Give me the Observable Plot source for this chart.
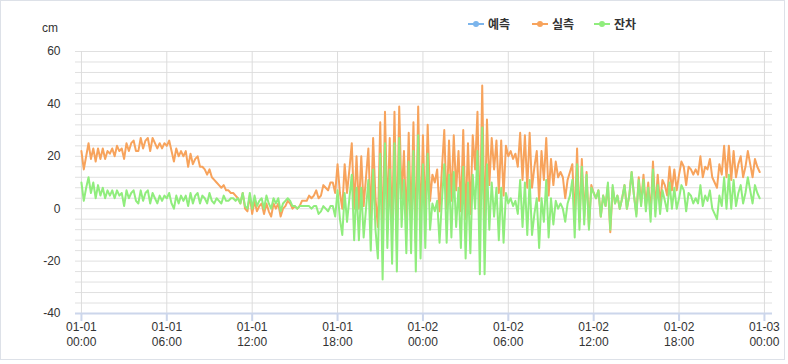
<!DOCTYPE html>
<html>
<head>
<meta charset="utf-8">
<script src="https://cdn.jsdelivr.net/npm/d3@7"></script>
<script src="https://cdn.jsdelivr.net/npm/@observablehq/plot@0.6"></script>
<style>
  body { margin: 0; background: #fff; font-family: "Noto Sans CJK KR", "Noto Sans", sans-serif; }
  #wrap { position: relative; width: 788px; height: 364px; overflow: hidden; background: #fff; }
  #frame { position: absolute; left: 0; top: 0; width: 785px; height: 360px; border: 1px solid #dde1e8; box-sizing: border-box; pointer-events: none; }
  #unit { position: absolute; left: 42px; top: 21px; font-size: 12px; color: #333; font-family: "Liberation Sans", Arial, sans-serif; }
  .leg { position: absolute; top: 15px; display: flex; align-items: center; font-size: 12px; font-weight: bold; color: #333; white-space: nowrap; }
  .leg svg { margin-right: 4px; }
  #chart { position: absolute; left: 0; top: 0; }
</style>
</head>
<body>
<div id="wrap">
  <div id="chart"></div>
  <div id="unit">cm</div>
  <div id="legend"></div>
  <div id="frame"></div>
</div>
<script>
// ---- data (10-minute readings from 01-01 00:00) ----
const startTime = Date.UTC(2024, 0, 1, 0, 0);
const stepMinutes = 10;

const seriesNames = ["예측", "실측", "잔차"];
const seriesColors = ["#7cb5ec", "#f7a35c", "#90ed7d"];

// 예측 (prediction) – not drawn in the reference
const predicted = [];

// 실측 (observed), cm
const observed = [
  22,15,20,25,19,23, 18,23,19,23,19,22, 21,23,20,24,22,23, 19,25,22,25,26,22,
  22,27,23,26,27,22, 27,25,23,25,23,25, 24,26,22,18,23,20, 22,20,22,16,21,17,
  19,20,16,16,15,13, 15,12,11,10,9,8, 9,7,7,6,6,5, 4,2,6,0,-1,5,
  -2,3,-1,1,2,-2, 2,-1,-3,2,0,2, -3,0,1,3,2,0, 1,0,1,3,3,3,
  5,4,5,7,4,5, 9,8,7,10,10,6, 17,6,0,17,6,15, 25,0,20,0,20,1,
  12,23,-4,27,4,-7, 33,-15,37,-3,27,-9, 37,-12,39,4,22,-6, 29,-6,33,-13,39,-8,
  28,-4,32,3,13,10, 15,-1,15,30,0,26, 3,28,7,22,-1,30, -4,25,-2,28,15,37,
  -9,47,-9,34,9,27, 15,26,6,26,5,24, 20,22,19,21,16,29, 11,28,8,29,8,16,
  22,3,22,11,27,5, 19,9,18,12,14,12, 4,11,14,17,-5,23, -5,19,-3,14,-7,9,
  6,4,7,-3,5,1, 9,-9,8,2,5,0, 4,9,0,5,14,5, -2,12,2,13,1,10,
  -2,18,0,13,2,11, 9,5,16,7,15,7, 13,18,16,9,16,15, 13,15,13,20,12,16,
  15,19,12,10,8,17, 13,24,12,24,11,22, 12,17,20,12,16,22, 17,12,19,16,14
];

// 잔차 (residual), cm
const residual = [
  10,3,8,12,6,10, 4,9,5,8,4,7, 5,7,4,7,5,6, 1,7,4,6,7,3, 2,7,3,6,7,2, 6,4,2,5,3,5,
  4,6,2,0,5,2, 5,3,5,1,6,2, 5,6,2,5,4,2, 6,3,2,4,3,2, 5,3,3,4,4,3, 4,2,6,1,0,6,
  0,5,1,3,4,0, 5,2,0,4,2,4, -1,2,3,4,3,1, 1,0,1,1,1,1, 1,0,1,1,-2,-1, 1,0,-1,1,1,-3,
  7,-4,-10,6,-5,4, 13,-12,8,-12,8,-11, 0,11,-16,15,-8,-19, 21,-27,25,-15,15,-21, 25,-24,27,-7,11,-17, 18,-17,22,-24,28,-19,
  17,-15,21,-8,2,-1, 3,-13,3,17,-13,13, -11,14,-7,8,-15,16, -19,10,-17,13,0,22, -25,31,-25,17,-8,10, -3,8,-12,8,-13,6,
  2,4,1,3,-2,11, -7,10,-10,11,-10,-2, 4,-15,4,-5,11,-11, 4,-6,3,0,2,0, -5,2,5,11,-11,17, -8,16,-6,13,-8,8,
  6,4,7,-3,5,1, 10,-8,9,2,5,0, 4,9,0,5,14,5, -3,11,1,11,-1,8, -5,15,-3,9,-2,7, 3,-1,10,0,8,0,
  4,9,7,-1,6,5, 2,4,2,9,1,5, 3,7,0,-2,-4,5, 1,12,0,13,0,11, 1,6,9,2,6,12, 7,2,9,6,4
];

// axes
const tickHours = [0, 6, 12, 18, 24, 30, 36, 42, 48];
const xDateLabels = ["01-01", "01-01", "01-01", "01-01", "01-02", "01-02", "01-02", "01-02", "01-03"];
const xTimeLabels = ["00:00", "06:00", "12:00", "18:00", "00:00", "06:00", "12:00", "18:00", "00:00"];
const yTicks = [-40, -20, 0, 20, 40, 60];
const yGrid = d3.range(-40, 61, 4);

// ---- build ----
const rows = observed.map((v, i) => ({
  time: new Date(startTime + i * stepMinutes * 60000),
  observed: v,
  residual: residual[i]
}));
const xTicks = tickHours.map(h => new Date(startTime + h * 3600000));
const tickIndex = d => xTicks.findIndex(t => +t === +d);
const xDomain = [new Date(startTime - 25 * 60000), new Date(startTime + (48 * 60 + 34) * 60000)];

const chart = Plot.plot({
  width: 788,
  height: 364,
  marginTop: 51,
  marginBottom: 51,
  marginLeft: 75,
  marginRight: 16,
  style: { fontFamily: '"Liberation Sans", Arial, sans-serif', fontSize: "12px", background: "transparent", color: "#333" },
  x: { type: "utc", domain: xDomain },
  y: { domain: [-40, 60] },
  marks: [
    Plot.ruleY(yGrid, { stroke: "#e0e0e0", strokeWidth: 1 }),
    Plot.ruleX(xTicks, { stroke: "#dcdcdc", strokeWidth: 1 }),
    Plot.line(rows, { x: "time", y: "observed", stroke: seriesColors[1], strokeWidth: 2, curve: "linear" }),
    Plot.line(rows, { x: "time", y: "residual", stroke: seriesColors[2], strokeWidth: 2, curve: "linear" }),
    Plot.ruleY([-40], { stroke: "#ccd6eb", strokeWidth: 2 }),
    // tick marks only
    Plot.axisX({ ticks: xTicks, tickSize: 8, stroke: "#ccd6eb", strokeWidth: 2, tickFormat: () => "" }),
    // two label rows
    Plot.axisX({ ticks: xTicks, tickSize: 0, tickPadding: 9, color: "#333", fontSize: 12,
      tickFormat: d => xDateLabels[tickIndex(d)] }),
    Plot.axisX({ ticks: xTicks, tickSize: 0, tickPadding: 24, color: "#333", fontSize: 12,
      tickFormat: d => xTimeLabels[tickIndex(d)] }),
    Plot.axisY({ ticks: yTicks, tickSize: 0, tickPadding: 15, color: "#333", fontSize: 12, tickFormat: d => String(d) })
  ]
});
document.getElementById("chart").appendChild(chart);

// legend
const legendX = [468, 532, 594];
const legend = document.getElementById("legend");
seriesNames.forEach((name, i) => {
  const item = document.createElement("div");
  item.className = "leg";
  item.style.left = legendX[i] + "px";
  item.innerHTML = `<svg width="16" height="12"><line x1="0" y1="6" x2="16" y2="6" stroke="${seriesColors[i]}" stroke-width="2"/><circle cx="8" cy="6" r="3" fill="${seriesColors[i]}"/></svg><span>${name}</span>`;
  legend.appendChild(item);
});
</script>
</body>
</html>
